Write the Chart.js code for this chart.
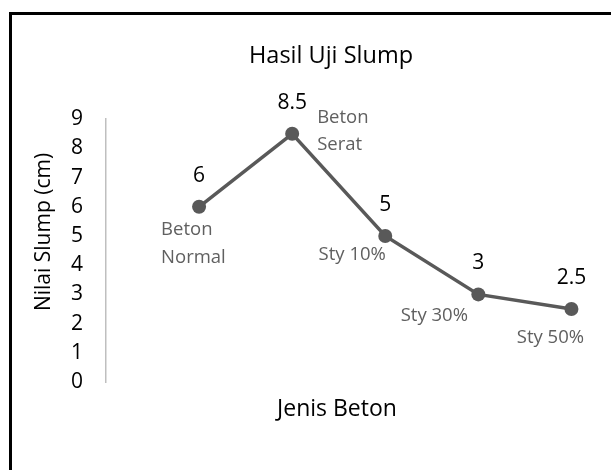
<!DOCTYPE html>
<html>
<head>
<meta charset="utf-8">
<script src="https://cdn.jsdelivr.net/npm/chart.js@4"></script>
<style>
    html, body { margin: 0; padding: 0; background: #fff; overflow: hidden; }
    #wrap { position: relative; width: 611px; height: 470px; }
    #frame {
        position: absolute; left: 9px; top: 12px; right: -10px; bottom: -10px;
        border-left: 3px solid #000; border-top: 3px solid #000;
        pointer-events: none;
    }
    canvas { position: absolute; left: 0; top: 0; }
</style>
</head>
<body>
<div id="wrap">
    <canvas id="slumpChart" width="611" height="470"></canvas>
    <div id="frame"></div>
</div>
<script>
const chartTitle = "Hasil Uji Slump";
const yAxisTitle = "Nilai Slump (cm)";
const xAxisTitle = "Jenis Beton";
const categories = [["Beton", "Normal"], ["Beton", "Serat"], "Sty 10%", "Sty 30%", "Sty 50%"];
const slumpValues = [6, 8.5, 5, 3, 2.5];
const yTicks = [0, 1, 2, 3, 4, 5, 6, 7, 8, 9];

// where each category label sits relative to its point (hand placed, like in the original)
const catLabelPlace = [
    { dx: -38, dy: 23, align: "left", lineGap: 28 },
    { dx: 25, dy: -16, align: "left", lineGap: 27 },
    { dx: -33, dy: 19, align: "center" },
    { dx: -44, dy: 21, align: "center" },
    { dx: -21, dy: 29, align: "center" }
];

const FONT = "'Open Sans', 'DejaVu Sans', sans-serif";
const LINE_COLOR = "#595959";

// draws value labels, category labels and the two axis titles
const labelPlugin = {
    id: "slumpLabels",
    afterDatasetsDraw(chart) {
        const ctx = chart.ctx;
        const meta = chart.getDatasetMeta(0);
        ctx.save();
        ctx.textBaseline = "middle";
        meta.data.forEach((pt, i) => {
            // value above point
            ctx.font = "21px " + FONT;
            ctx.fillStyle = "#000";
            ctx.textAlign = "center";
            ctx.fillText(String(slumpValues[i]), pt.x, pt.y - 31);

            // category name
            const place = catLabelPlace[i];
            const lines = Array.isArray(categories[i]) ? categories[i] : [categories[i]];
            ctx.font = "18.5px " + FONT;
            ctx.fillStyle = "#606060";
            ctx.textAlign = place.align;
            lines.forEach((line, j) => {
                ctx.fillText(line, pt.x + place.dx, pt.y + place.dy + j * (place.lineGap || 0));
            });
        });

        // axis titles
        ctx.fillStyle = "#000";
        ctx.font = "23px " + FONT;
        ctx.textAlign = "center";
        ctx.fillText(xAxisTitle, 337, 409);

        ctx.font = "21px " + FONT;
        ctx.translate(44, 232);
        ctx.rotate(-Math.PI / 2);
        ctx.fillText(yAxisTitle, 0, 0);
        ctx.restore();
    }
};

const ctx = document.getElementById("slumpChart");

new Chart(ctx, {
    type: "line",
    data: {
        datasets: [{
            data: slumpValues.map((v, i) => ({ x: i, y: v })),
            borderColor: LINE_COLOR,
            backgroundColor: LINE_COLOR,
            borderWidth: 3.5,
            pointRadius: 7,
            pointHoverRadius: 7,
            pointBackgroundColor: LINE_COLOR,
            pointBorderWidth: 0,
            tension: 0,
            clip: false
        }]
    },
    options: {
        responsive: false,
        animation: false,
        events: [],
        layout: {
            padding: { left: 51, right: 0, top: 0, bottom: 88 }
        },
        plugins: {
            legend: { display: false },
            tooltip: { enabled: false },
            title: {
                display: true,
                text: chartTitle,
                color: "#000",
                font: { family: FONT, size: 23.5, weight: "normal", lineHeight: 1.2 },
                padding: { top: 42, bottom: 49 }
            }
        },
        scales: {
            x: {
                type: "linear",
                display: false,
                min: -1,
                max: 4.35
            },
            y: {
                min: 0,
                max: 9,
                afterFit(scale) { scale.width = 55; },
                afterBuildTicks(scale) { scale.ticks = yTicks.map(v => ({ value: v })); },
                grid: { display: true, drawOnChartArea: false, drawTicks: false, color: "transparent" },
                border: { display: true, color: "#bfbfbf", width: 1.5 },
                ticks: {
                    color: "#000",
                    padding: 23,
                    autoSkip: false,
                    font: { family: FONT, size: 21 }
                }
            }
        }
    },
    plugins: [labelPlugin]
});
</script>
</body>
</html>
